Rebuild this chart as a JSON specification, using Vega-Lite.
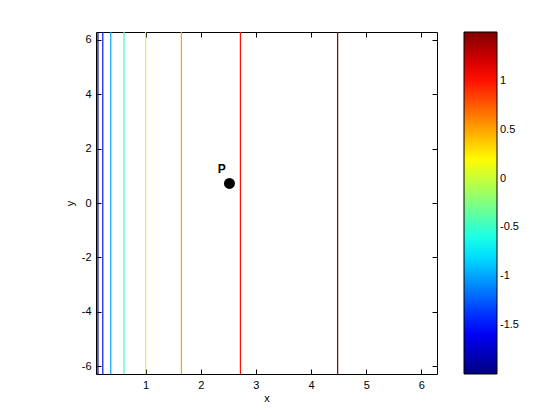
{
  "$schema": "https://vega.github.io/schema/vega-lite/v6.json",
  "width": 341,
  "height": 342,
  "autosize": {"type": "none"},
  "padding": {"left": 96, "top": 32, "right": 123, "bottom": 46},
  "background": "white",
  "config": {
    "font": "Liberation Sans",
    "view": {"stroke": "black", "strokeWidth": 1},
    "axis": {"grid": false, "domain": false, "tickColor": "black", "tickSize": -5, "labelColor": "black", "labelFontSize": 11, "titleFontSize": 11, "titleFontWeight": "normal", "titleColor": "black", "labelExpr": "'' + datum.value"}
  },
  "datasets": {
    "levels": [
      {"level": -2.0, "x": 0.1353},
      {"level": -1.5, "x": 0.2231},
      {"level": -1.0, "x": 0.3679},
      {"level": -0.5, "x": 0.6065},
      {"level": 0.0, "x": 1.0},
      {"level": 0.5, "x": 1.6487},
      {"level": 1.0, "x": 2.7183},
      {"level": 1.5, "x": 4.4817}
    ],
    "point": [{"x": 2.52, "y": 0.72, "label": "P", "lx": 2.38, "ly": 1.25}]
  },
  "layer": [
    {
      "data": {"name": "levels"},
      "mark": {"type": "rule", "strokeWidth": 1.2},
      "encoding": {
        "x": {"field": "x", "type": "quantitative", "scale": {"domain": [0.1, 6.2832], "nice": false, "zero": false},
              "axis": {"orient": "bottom", "values": [1, 2, 3, 4, 5, 6], "title": "x", "labelPadding": 10, "titlePadding": 2}},
        "color": {"field": "level", "type": "quantitative",
          "scale": {"domain": [-2, -1.5625, -0.6875, 0.1875, 1.0625, 1.5], "range": ["#000080", "#0000ff", "#00ffff", "#ffff00", "#ff0000", "#800000"], "interpolate": "rgb"},
          "legend": {"orient": "none", "legendX": 368, "legendY": 0, "direction": "vertical", "gradientLength": 342, "gradientThickness": 33, "title": null,
                     "values": [-1.5, -1, -0.5, 0, 0.5, 1], "labelExpr": "'' + datum.value", "labelFontSize": 11, "labelColor": "black", "gradientStrokeColor": "black", "gradientStrokeWidth": 1, "labelOffset": 3, "labelOverlap": false}}
      }
    },
    {
      "data": {"name": "point"},
      "mark": {"type": "circle", "size": 120, "color": "black", "opacity": 1},
      "encoding": {
        "x": {"field": "x", "type": "quantitative", "axis": {"orient": "top", "values": [1, 2, 3, 4, 5, 6], "labels": false, "title": null}},
        "y": {"field": "y", "type": "quantitative", "scale": {"domain": [-6.2832, 6.2832], "nice": false, "zero": false},
              "axis": {"orient": "left", "values": [-6, -4, -2, 0, 2, 4, 6], "title": "y", "labelPadding": 10, "titlePadding": 6}}
      }
    },
    {
      "data": {"name": "point"},
      "mark": {"type": "text", "fontWeight": "bold", "fontSize": 12, "color": "black", "align": "center", "baseline": "middle"},
      "encoding": {
        "x": {"field": "lx", "type": "quantitative", "axis": null},
        "y": {"field": "ly", "type": "quantitative", "axis": {"orient": "right", "values": [-6, -4, -2, 0, 2, 4, 6], "labels": false, "title": null}},
        "text": {"field": "label"}
      }
    }
  ],
  "resolve": {"axis": {"x": "independent", "y": "independent"}}
}
